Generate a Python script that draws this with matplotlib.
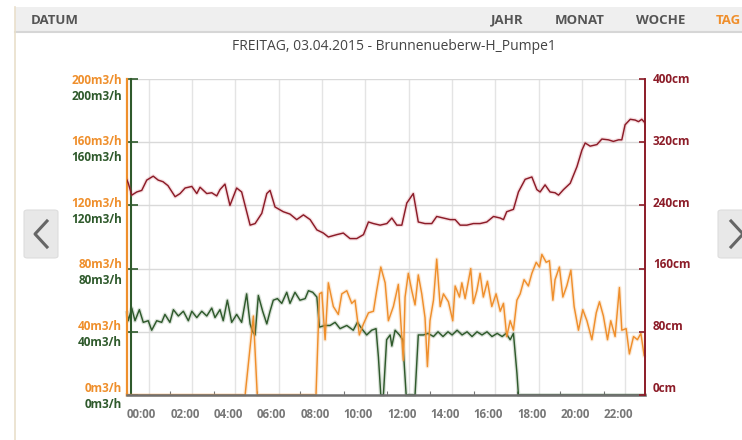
import matplotlib.pyplot as plt
import matplotlib.patheffects as pe
from matplotlib.patches import Rectangle, FancyBboxPatch
from matplotlib.lines import Line2D

plt.rcParams['font.family'] = ['Open Sans', 'DejaVu Sans']

# Pegel (cm, rechte Achse)
level_t = [0.0, 0.06, 0.22, 0.45, 0.68, 0.91, 1.21, 1.44, 1.66, 1.89, 2.22, 2.45, 2.68, 2.99,
           3.22, 3.37, 3.68, 3.91, 4.14, 4.29, 4.52, 4.75, 5.06, 5.29, 5.68, 5.91, 6.22, 6.45,
           6.60, 6.83, 7.21, 7.52, 7.83, 8.14, 8.45, 8.76, 9.06, 9.29, 9.68, 9.98, 10.29, 10.60,
           10.91, 11.14, 11.37, 11.68, 11.99, 12.22, 12.45, 12.68, 12.91, 13.21, 13.44, 13.75,
           14.06, 14.29, 14.60, 14.91, 15.14, 15.37, 15.68, 15.98, 16.29, 16.60, 16.91, 17.22,
           17.37, 17.52, 17.83, 18.06, 18.37, 18.68, 18.91, 19.06, 19.29, 19.52, 19.75, 19.91,
           20.14, 20.45, 20.76, 20.99, 21.14, 21.37, 21.68, 21.91, 22.21, 22.44, 22.68, 22.83,
           22.98, 23.22, 23.45, 23.60, 23.75, 23.88]
level_cm = [272, 268, 253, 257, 259, 272, 277, 272, 270, 265, 251, 255, 262, 264,
            255, 263, 255, 256, 252, 260, 267, 240, 262, 257, 215, 217, 230, 255,
            259, 238, 232, 229, 222, 228, 222, 209, 205, 200, 203, 205, 198, 198,
            203, 219, 217, 215, 217, 224, 215, 215, 243, 255, 219, 217,
            217, 226, 224, 222, 222, 215, 215, 217, 217, 219, 226, 224,
            222, 232, 235, 257, 273, 276, 260, 257, 266, 257, 256, 253,
            260, 268, 289, 310, 319, 315, 317, 324, 323, 321, 323, 323,
            342, 349, 348, 346, 349, 345]

# Durchfluss orange (m3/h)
orange_t = [0.0, 5.45, 5.83, 6.01, 8.72, 8.88, 8.99, 9.14, 9.29, 9.52, 9.75, 9.91, 10.14,
            10.37, 10.52, 10.72, 10.91, 11.14, 11.37, 11.52, 11.71, 11.91, 12.06, 12.29,
            12.52, 12.75, 12.83, 12.98, 13.14, 13.29, 13.44, 13.60, 13.75, 13.86, 13.98,
            14.14, 14.29, 14.45, 14.60, 14.83, 15.03, 15.14, 15.34, 15.45, 15.60, 15.86,
            15.98, 16.14, 16.29, 16.44, 16.63, 16.83, 17.03, 17.22, 17.37, 17.52, 17.68,
            17.83, 17.99, 18.14, 18.32, 18.52, 18.68, 18.88, 19.03, 19.14, 19.34, 19.49,
            19.65, 19.75, 19.95, 20.11, 20.29, 20.48, 20.63, 20.83, 21.03, 21.22, 21.45,
            21.65, 21.80, 21.98, 22.17, 22.32, 22.52, 22.72, 22.83, 23.03, 23.18, 23.37,
            23.55, 23.71, 23.86]
orange_q = [0, 0, 50, 0, 0, 64, 65, 35, 71, 56, 51, 64, 66,
            58, 60, 38, 45, 52, 53, 66, 81, 71, 47, 56,
            70, 22, 62, 77, 66, 57, 76, 64, 49, 18, 47,
            60, 86, 56, 64, 59, 47, 69, 62, 71, 61, 80,
            58, 66, 77, 62, 72, 56, 64, 53, 58, 37, 47,
            41, 60, 64, 73, 69, 77, 84, 81, 89, 84, 85,
            60, 73, 81, 62, 69, 79, 56, 41, 54, 47, 35,
            52, 59, 50, 35, 47, 37, 68, 41, 42, 26, 37,
            35, 39, 25]

# Durchfluss gruen (m3/h)
green_t = [0.0, 0.06, 0.22, 0.37, 0.57, 0.75, 0.98, 1.14, 1.37, 1.60, 1.75, 1.98, 2.14, 2.37,
           2.60, 2.83, 2.99, 3.22, 3.45, 3.68, 3.91, 4.06, 4.29, 4.44, 4.63, 4.83, 5.06,
           5.29, 5.52, 5.68, 5.80, 5.91, 6.06, 6.26, 6.45, 6.60, 6.75, 6.94, 7.14, 7.37,
           7.52, 7.75, 7.98, 8.22, 8.37, 8.57, 8.76, 8.88, 9.14, 9.37, 9.60, 9.83, 10.14,
           10.44, 10.63, 10.83, 11.06, 11.29, 11.49, 11.60, 11.71, 11.83, 11.98, 12.14,
           12.22, 12.37, 12.57, 12.72, 12.88, 13.29, 13.44, 13.68, 13.89, 14.14, 14.35,
           14.58, 14.81, 15.00, 15.23, 15.46, 15.69, 15.92, 16.15, 16.38, 16.61, 16.84,
           17.08, 17.31, 17.49, 17.68, 17.83, 17.99, 18.06, 23.9]
green_q = [52, 47, 55, 47, 54, 46, 47, 41, 47, 46, 51, 46, 54, 50,
           53, 47, 53, 49, 53, 50, 55, 49, 54, 47, 60, 46, 51,
           46, 64, 45, 40, 38, 63, 53, 45, 53, 60, 61, 58, 65,
           58, 65, 60, 61, 66, 65, 62, 43, 44, 44, 46, 42, 44,
           41, 46, 42, 38, 41, 42, 24, 0, 0, 35, 38,
           31, 41, 38, 35, 0, 0, 38, 38, 39, 37, 40,
           37, 40, 38, 41, 38, 40, 37, 40, 38, 40, 37,
           39, 37, 39, 35, 39, 14, 0, 0]

hours = list(range(0, 24, 2))
hour_labels = ['%02d:00' % h for h in hours]
flow_ticks = [0, 40, 80, 120, 160, 200]
level_ticks = [0, 80, 160, 240, 320, 400]

ORANGE = '#ef8f2c'
GREEN = '#2f5a2c'
RED = '#8c1c28'
W, H = 742, 440

fig = plt.figure(figsize=(W / 100, H / 100), dpi=100)

# Kopfzeile
fig.patches.append(Rectangle((15 / W, 1 - 32 / H), 1, 25 / H, transform=fig.transFigure,
                             facecolor='#efefef', edgecolor='none'))
fig.lines.append(Line2D([15 / W, 1], [1 - 32 / H] * 2, transform=fig.transFigure,
                        color='#d6d6d6', lw=1.5))
fig.lines.append(Line2D([15 / W] * 2, [0, 1 - 7 / H], transform=fig.transFigure,
                        color='#e9dfcb', lw=1.2))
hdr = dict(fontsize=9.5, fontweight='bold', va='center', color='#555555')
fig.text(31 / W, 1 - 20 / H, 'DATUM', ha='left', **hdr)
fig.text(507 / W, 1 - 20 / H, 'JAHR', ha='center', **hdr)
fig.text(580 / W, 1 - 20 / H, 'MONAT', ha='center', **hdr)
fig.text(661 / W, 1 - 20 / H, 'WOCHE', ha='center', **hdr)
hdr['color'] = ORANGE
fig.text(716 / W, 1 - 20 / H, 'TAG', ha='left', **hdr)

fig.text(394 / W, 1 - 47 / H, 'FREITAG, 03.04.2015 - Brunnenueberw-H_Pumpe1',
         ha='center', va='center', fontsize=10, color='#444444')

# Navigationsknoepfe
for x0 in (24, 718):
    fig.patches.append(FancyBboxPatch((x0 / W, 1 - 258 / H), 34 / W, 48 / H,
                                      boxstyle='round,pad=0,rounding_size=0.005',
                                      transform=fig.transFigure, facecolor='#e8e8e8',
                                      edgecolor='#dddddd', lw=0.8))
fig.lines.append(Line2D([47 / W, 35 / W, 47 / W], [1 - 221 / H, 1 - 234 / H, 1 - 247 / H],
                        transform=fig.transFigure, color='#666666', lw=2.2))
fig.lines.append(Line2D([731 / W, 743 / W, 731 / W], [1 - 221 / H, 1 - 234 / H, 1 - 247 / H],
                        transform=fig.transFigure, color='#666666', lw=2.2))

ax = fig.add_axes([127 / W, 45 / H, 518 / W, 316 / H])
ax.set_xlim(0, 23.9)
ax.set_ylim(0, 200)
ax.set_xticks(range(0, 24), minor=True)
ax.grid(True, which='minor', axis='x', color='#e4e4e4', lw=1)
ax.set_yticks(flow_ticks)
ax.grid(True, which='major', axis='y', color='#d9d9d9', lw=1)
ax.set_axisbelow(True)
ax.set_xticks(hours)
ax.set_xticklabels(hour_labels, fontsize=8.3, fontweight='bold', color='#777777', ha='left')
ax.tick_params(axis='x', which='major', direction='in', length=3, color='#777777', pad=9)
ax.tick_params(axis='x', which='minor', length=0)
ax.tick_params(axis='y', direction='in', length=8, width=1.2, color=GREEN, labelleft=False)
for s in ('top', 'right'):
    ax.spines[s].set_visible(False)
ax.spines['left'].set_color(ORANGE)
ax.spines['left'].set_linewidth(1.6)
ax.spines['bottom'].set_color('#707070')
ax.spines['bottom'].set_linewidth(1.8)
ax.plot([4 / 518] * 2, [0, 1], transform=ax.transAxes, color=GREEN, lw=1.5, clip_on=False)

for v in flow_ticks:
    dy = -1 + (200 - v) * 0.04
    ax.annotate('%dm3/h' % v, xy=(0, v), xycoords=('axes fraction', 'data'),
                xytext=(-5, dy), textcoords='offset pixels', ha='right', va='center',
                fontsize=8.5, fontweight='bold', color=ORANGE, annotation_clip=False)
    ax.annotate('%dm3/h' % v, xy=(0, v), xycoords=('axes fraction', 'data'),
                xytext=(-5, dy - 16), textcoords='offset pixels', ha='right', va='center',
                fontsize=8.5, fontweight='bold', color=GREEN, annotation_clip=False)

glow = lambda c: [pe.Stroke(linewidth=2.8, foreground=c, alpha=0.18), pe.Normal()]
ax.plot(green_t, green_q, color=GREEN, lw=1.05, path_effects=glow(GREEN), clip_on=False)
ax.plot(orange_t, orange_q, color=ORANGE, lw=1.05, path_effects=glow(ORANGE), clip_on=False)

ax2 = ax.twinx()
ax2.set_ylim(0, 400)
ax2.set_yticks(level_ticks)
ax2.set_yticklabels([])
ax2.tick_params(axis='y', direction='in', length=4, width=1.2, color=RED)
for s in ('top', 'left', 'bottom'):
    ax2.spines[s].set_visible(False)
ax2.spines['right'].set_color(RED)
ax2.spines['right'].set_linewidth(1.4)
for v in level_ticks:
    dy = -1 + (400 - v) * 0.02
    ax2.annotate('%dcm' % v, xy=(1, v), xycoords=('axes fraction', 'data'),
                 xytext=(8, dy), textcoords='offset pixels', ha='left', va='center',
                 fontsize=8.5, fontweight='bold', color=RED, annotation_clip=False)
ax2.plot(level_t, level_cm, color=RED, lw=1.05, path_effects=glow('#d05060'))

fig.savefig('out.png', dpi=100)
